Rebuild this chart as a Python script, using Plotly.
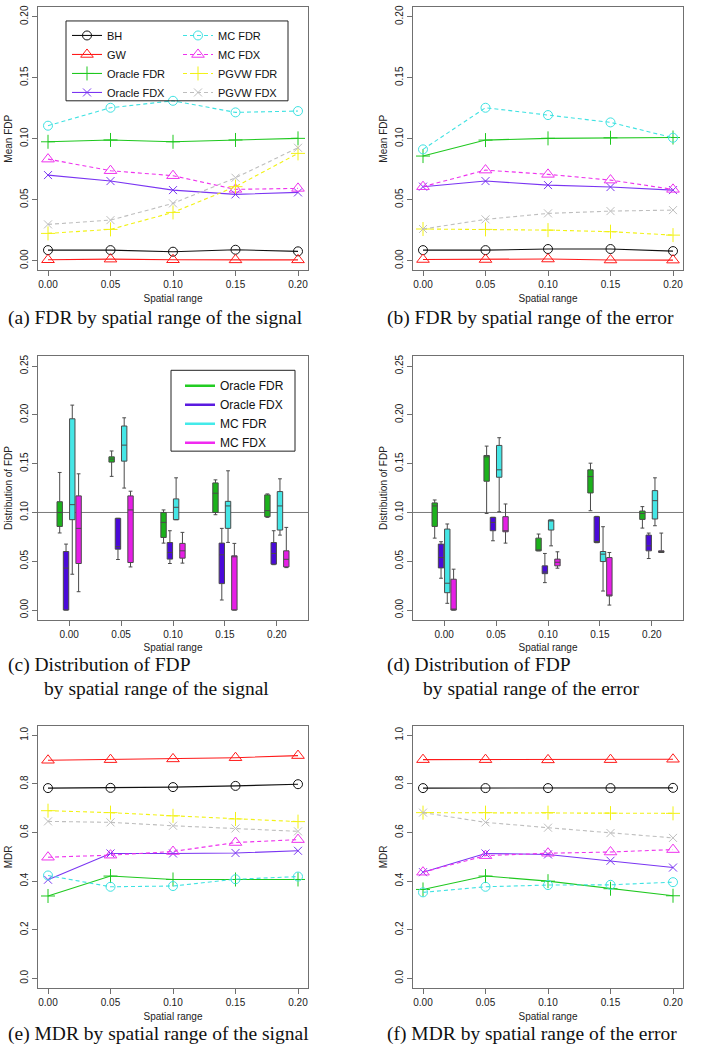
import plotly.graph_objects as go

# ---------------- data ----------------
spatial_range = [0.00, 0.05, 0.10, 0.15, 0.20]
tick_fdp = [0.00, 0.05, 0.10, 0.15, 0.20]
tick_fdp_box = [0.00, 0.05, 0.10, 0.15, 0.20, 0.25]
tick_mdr = [0.0, 0.2, 0.4, 0.6, 0.8, 1.0]
methods = ["BH", "GW", "Oracle FDR", "Oracle FDX", "MC FDR", "MC FDX", "PGVW FDR", "PGVW FDX"]
box_methods = ["Oracle FDR", "Oracle FDX", "MC FDR", "MC FDX"]

# (a) mean FDP, spatial range of the signal
a_bh = [0.0087, 0.0087, 0.0074, 0.0090, 0.0077]
a_gw = [0.0008, 0.0013, 0.0008, 0.0007, 0.0007]
a_oracle_fdr = [0.0975, 0.0990, 0.0975, 0.0990, 0.1003]
a_oracle_fdx = [0.0702, 0.0653, 0.0579, 0.0544, 0.0560]
a_mc_fdr = [0.1107, 0.1254, 0.1311, 0.1216, 0.1227]
a_mc_fdx = [0.0833, 0.0738, 0.0697, 0.0585, 0.0593]
a_pgvw_fdr = [0.0224, 0.0257, 0.0396, 0.0607, 0.0880]
a_pgvw_fdx = [0.0298, 0.0333, 0.0470, 0.0680, 0.0926]

# (b) mean FDP, spatial range of the error
b_bh = [0.0087, 0.0087, 0.0096, 0.0096, 0.0079]
b_gw = [0.0010, 0.0010, 0.0014, 0.0006, 0.0005]
b_oracle_fdr = [0.0858, 0.0989, 0.1003, 0.1008, 0.1010]
b_oracle_fdx = [0.0607, 0.0653, 0.0620, 0.0604, 0.0579]
b_mc_fdr = [0.0913, 0.1254, 0.1194, 0.1134, 0.1008]
b_mc_fdx = [0.0607, 0.0743, 0.0708, 0.0661, 0.0585]
b_pgvw_fdr = [0.0260, 0.0257, 0.0251, 0.0238, 0.0210]
b_pgvw_fdx = [0.0260, 0.0339, 0.0388, 0.0407, 0.0415]

# (e) MDR, spatial range of the signal
e_bh = [0.783, 0.784, 0.787, 0.792, 0.799]
e_gw = [0.8975, 0.900, 0.903, 0.908, 0.9167]
e_oracle_fdr = [0.339, 0.421, 0.407, 0.407, 0.407]
e_oracle_fdx = [0.406, 0.514, 0.514, 0.516, 0.525]
e_mc_fdr = [0.4235, 0.377, 0.380, 0.408, 0.419]
e_mc_fdx = [0.4986, 0.507, 0.522, 0.559, 0.571]
e_pgvw_fdr = [0.690, 0.682, 0.669, 0.656, 0.645]
e_pgvw_fdx = [0.646, 0.642, 0.628, 0.617, 0.605]

# (f) MDR, spatial range of the error
f_bh = [0.783, 0.783, 0.783, 0.783, 0.784]
f_gw = [0.900, 0.900, 0.899, 0.900, 0.9016]
f_oracle_fdr = [0.366, 0.421, 0.400, 0.369, 0.340]
f_oracle_fdx = [0.437, 0.514, 0.510, 0.484, 0.456]
f_mc_fdr = [0.354, 0.377, 0.384, 0.385, 0.396]
f_mc_fdx = [0.437, 0.505, 0.515, 0.520, 0.530]
f_pgvw_fdr = [0.682, 0.682, 0.682, 0.680, 0.679]
f_pgvw_fdx = [0.682, 0.642, 0.620, 0.598, 0.578]

# (c) distribution of FDP, spatial range of the signal (per group: low whisker, Q1, median, Q3, high whisker)
c_oracle_fdr_lo = [0.079, 0.137, 0.0686, 0.0977, 0.095]
c_oracle_fdr_q1 = [0.0857, 0.1516, 0.0744, 0.100, 0.0957]
c_oracle_fdr_med = [0.100, 0.1547, 0.0898, 0.1197, 0.1019]
c_oracle_fdr_q3 = [0.111, 0.157, 0.100, 0.1303, 0.118]
c_oracle_fdr_hi = [0.141, 0.163, 0.1026, 0.1334, 0.119]
c_oracle_fdx_lo = [0.0, 0.0518, 0.0477, 0.0103, 0.0465]
c_oracle_fdx_q1 = [0.0, 0.0624, 0.0522, 0.0271, 0.047]
c_oracle_fdx_med = [0.043, 0.065, 0.059, 0.0566, 0.058]
c_oracle_fdx_q3 = [0.060, 0.094, 0.0692, 0.0686, 0.0692]
c_oracle_fdx_hi = [0.0676, 0.094, 0.0813, 0.0837, 0.0813]
c_mc_fdr_lo = [0.0367, 0.125, 0.0926, 0.0693, 0.0768]
c_mc_fdr_q1 = [0.0926, 0.1526, 0.0926, 0.0837, 0.082]
c_mc_fdr_med = [0.108, 0.169, 0.1053, 0.1067, 0.1067]
c_mc_fdr_q3 = [0.196, 0.1886, 0.1139, 0.1114, 0.1214]
c_mc_fdr_hi = [0.210, 0.197, 0.1355, 0.1427, 0.1345]
c_mc_fdx_lo = [0.0188, 0.0442, 0.0481, 0.0, 0.0435]
c_mc_fdx_q1 = [0.0477, 0.0487, 0.0532, 0.0, 0.0442]
c_mc_fdx_med = [0.0837, 0.1026, 0.0607, 0.055, 0.052]
c_mc_fdx_q3 = [0.117, 0.117, 0.0683, 0.0556, 0.0607]
c_mc_fdx_hi = [0.1396, 0.1218, 0.0796, 0.0683, 0.0847]

# (d) distribution of FDP, spatial range of the error
d_oracle_fdr_lo = [0.0737, 0.099, 0.0607, 0.1018, 0.084]
d_oracle_fdr_q1 = [0.0857, 0.132, 0.0607, 0.120, 0.0929]
d_oracle_fdr_med = [0.1067, 0.157, 0.0614, 0.1368, 0.099]
d_oracle_fdr_q3 = [0.1098, 0.1584, 0.0737, 0.1437, 0.1015]
d_oracle_fdr_hi = [0.1128, 0.168, 0.0779, 0.1505, 0.106]
d_oracle_fdx_lo = [0.0326, 0.071, 0.0281, 0.069, 0.0528]
d_oracle_fdx_q1 = [0.0432, 0.0813, 0.0373, 0.0692, 0.0607]
d_oracle_fdx_med = [0.0538, 0.0898, 0.039, 0.070, 0.0658]
d_oracle_fdx_q3 = [0.0676, 0.095, 0.0453, 0.0957, 0.0768]
d_oracle_fdx_hi = [0.070, 0.095, 0.058, 0.096, 0.0789]
d_mc_fdr_lo = [0.0069, 0.1008, 0.0658, 0.0195, 0.0864]
d_mc_fdr_q1 = [0.0178, 0.1361, 0.082, 0.0497, 0.0933]
d_mc_fdr_med = [0.0275, 0.1437, 0.092, 0.0573, 0.1121]
d_mc_fdr_q3 = [0.083, 0.1687, 0.0923, 0.060, 0.1224]
d_mc_fdr_hi = [0.0882, 0.1766, 0.0923, 0.0854, 0.1355]
d_mc_fdx_lo = [0.0, 0.0686, 0.0429, 0.0051, 0.059]
d_mc_fdx_q1 = [0.0, 0.0802, 0.0453, 0.0144, 0.059]
d_mc_fdx_med = [0.0, 0.0813, 0.049, 0.015, 0.060]
d_mc_fdx_q3 = [0.0316, 0.0957, 0.0522, 0.0538, 0.0607]
d_mc_fdx_hi = [0.0419, 0.1087, 0.0597, 0.059, 0.0789]

fdp_target = 0.10

# ---------------- styles ----------------
W, H = 701, 1050
line_colors = {"BH": "#111111", "GW": "#ff1a1a", "Oracle FDR": "#1fc81f", "Oracle FDX": "#7a35f2",
               "MC FDR": "#3fe2e2", "MC FDX": "#ee33ee", "PGVW FDR": "#f2f215", "PGVW FDX": "#bebebe"}
symbols = {"BH": "circle-open", "GW": "triangle-up-open", "Oracle FDR": "cross-thin-open",
           "Oracle FDX": "x-thin-open", "MC FDR": "circle-open", "MC FDX": "triangle-up-open",
           "PGVW FDR": "cross-thin-open", "PGVW FDX": "x-thin-open"}
msizes = {"circle-open": 9, "triangle-up-open": 11, "cross-thin-open": 10, "x-thin-open": 8}
dashed = {"MC FDR", "MC FDX", "PGVW FDR", "PGVW FDX"}
box_fill = {"Oracle FDR": "#1bb21b", "Oracle FDX": "#4a0ad8", "MC FDR": "#45e6e6", "MC FDX": "#e61ee6"}
box_legend_col = {"Oracle FDR": "#22cc22", "Oracle FDX": "#5a1ae0", "MC FDR": "#44eaea", "MC FDX": "#f02af0"}
box_offset = {"Oracle FDR": -0.0091, "Oracle FDX": -0.003, "MC FDR": 0.003, "MC FDX": 0.0091}

SANS = "Liberation Sans, Arial, sans-serif"
SERIF = "Liberation Serif, Times New Roman, serif"


def px_x(p):
    return p / W


def px_y(p):
    return 1 - p / H


col_dom = [[px_x(38), px_x(308)], [px_x(413), px_x(683)]]
row_dom = [[px_y(269), px_y(5)], [px_y(619), px_y(355)], [px_y(988), px_y(725)]]

fig = go.Figure()

line_panels = [
    (1, [a_bh, a_gw, a_oracle_fdr, a_oracle_fdx, a_mc_fdr, a_mc_fdx, a_pgvw_fdr, a_pgvw_fdx], True),
    (2, [b_bh, b_gw, b_oracle_fdr, b_oracle_fdx, b_mc_fdr, b_mc_fdx, b_pgvw_fdr, b_pgvw_fdx], False),
    (5, [e_bh, e_gw, e_oracle_fdr, e_oracle_fdx, e_mc_fdr, e_mc_fdx, e_pgvw_fdr, e_pgvw_fdx], False),
    (6, [f_bh, f_gw, f_oracle_fdr, f_oracle_fdx, f_mc_fdr, f_mc_fdx, f_pgvw_fdr, f_pgvw_fdx], False),
]
for idx, series, show in line_panels:
    sfx = "" if idx == 1 else str(idx)
    for k, (name, vals) in enumerate(zip(methods, series)):
        c = line_colors[name]
        sym = symbols[name]
        fig.add_trace(go.Scatter(
            x=spatial_range, y=vals, name=name, mode="lines+markers",
            line=dict(color=c, width=1.1, dash="4px,3px" if name in dashed else "solid"),
            marker=dict(symbol=sym, size=msizes[sym], color=c, line=dict(color=c, width=1)),
            xaxis="x" + sfx, yaxis="y" + sfx, showlegend=show,
            legend="legend" if k < 4 else "legend2",
        ))

box_panels = [
    (3, {"Oracle FDR": (c_oracle_fdr_lo, c_oracle_fdr_q1, c_oracle_fdr_med, c_oracle_fdr_q3, c_oracle_fdr_hi),
         "Oracle FDX": (c_oracle_fdx_lo, c_oracle_fdx_q1, c_oracle_fdx_med, c_oracle_fdx_q3, c_oracle_fdx_hi),
         "MC FDR": (c_mc_fdr_lo, c_mc_fdr_q1, c_mc_fdr_med, c_mc_fdr_q3, c_mc_fdr_hi),
         "MC FDX": (c_mc_fdx_lo, c_mc_fdx_q1, c_mc_fdx_med, c_mc_fdx_q3, c_mc_fdx_hi)}),
    (4, {"Oracle FDR": (d_oracle_fdr_lo, d_oracle_fdr_q1, d_oracle_fdr_med, d_oracle_fdr_q3, d_oracle_fdr_hi),
         "Oracle FDX": (d_oracle_fdx_lo, d_oracle_fdx_q1, d_oracle_fdx_med, d_oracle_fdx_q3, d_oracle_fdx_hi),
         "MC FDR": (d_mc_fdr_lo, d_mc_fdr_q1, d_mc_fdr_med, d_mc_fdr_q3, d_mc_fdr_hi),
         "MC FDX": (d_mc_fdx_lo, d_mc_fdx_q1, d_mc_fdx_med, d_mc_fdx_q3, d_mc_fdx_hi)}),
]
for idx, stats in box_panels:
    # reference line at the target FDP level
    fig.add_shape(type="line", xref="x%d domain" % idx, yref="y%d" % idx, x0=0, x1=1,
                  y0=fdp_target, y1=fdp_target, line=dict(color="#7a7a7a", width=1), layer="below")
    for name in box_methods:
        lo, q1, med, q3, hi = stats[name]
        fig.add_trace(go.Box(
            x=[s + box_offset[name] for s in spatial_range],
            lowerfence=lo, q1=q1, median=med, q3=q3, upperfence=hi,
            width=0.0052, whiskerwidth=0.7, fillcolor=box_fill[name],
            line=dict(color="#4a4a4a", width=1), boxpoints=False,
            xaxis="x" + str(idx), yaxis="y" + str(idx), showlegend=False, name=name,
        ))

# legend entries for the box panel (c)
for name in box_methods:
    fig.add_trace(go.Scatter(x=[None], y=[None], mode="lines", name=name,
                             line=dict(color=box_legend_col[name], width=2.5),
                             xaxis="x3", yaxis="y3", legend="legend3", showlegend=True))

# ---------------- axes ----------------
axis_common = dict(showgrid=False, zeroline=False, showline=True, mirror=True, linecolor="#707070",
                   linewidth=1, ticks="outside", ticklen=5, tickcolor="#707070",
                   tickfont=dict(family=SANS, size=10, color="#222222"))
axes = {
    1: dict(xr=[-0.008, 0.208], yr=[-0.008, 0.208], yt=tick_fdp, fmt=".2f", ytitle="Mean FDP", r=0, c=0),
    2: dict(xr=[-0.008, 0.208], yr=[-0.008, 0.208], yt=tick_fdp, fmt=".2f", ytitle="Mean FDP", r=0, c=1),
    3: dict(xr=[-0.03, 0.23], yr=[-0.01, 0.26], yt=tick_fdp_box, fmt=".2f", ytitle="Distribution of FDP", r=1, c=0),
    4: dict(xr=[-0.03, 0.23], yr=[-0.01, 0.26], yt=tick_fdp_box, fmt=".2f", ytitle="Distribution of FDP", r=1, c=1),
    5: dict(xr=[-0.008, 0.208], yr=[-0.04, 1.04], yt=tick_mdr, fmt=".1f", ytitle="MDR", r=2, c=0),
    6: dict(xr=[-0.008, 0.208], yr=[-0.04, 1.04], yt=tick_mdr, fmt=".1f", ytitle="MDR", r=2, c=1),
}
layout_axes = {}
for idx, a in axes.items():
    sfx = "" if idx == 1 else str(idx)
    layout_axes["xaxis" + sfx] = dict(
        axis_common, domain=col_dom[a["c"]], range=a["xr"], anchor="y" + sfx,
        tickvals=spatial_range, ticktext=["%.2f" % v for v in spatial_range],
        title=dict(text="Spatial range", font=dict(family=SANS, size=10, color="#222222"), standoff=5),
    )
    layout_axes["yaxis" + sfx] = dict(
        axis_common, domain=row_dom[a["r"]], range=a["yr"], anchor="x" + sfx,
        tickvals=a["yt"], ticktext=[format(v, a["fmt"]) for v in a["yt"]], tickangle=-90,
        title=dict(text=a["ytitle"], font=dict(family=SANS, size=10, color="#222222"), standoff=4),
    )

legend_common = dict(font=dict(family=SANS, size=11, color="#111111"), bgcolor="rgba(0,0,0,0)",
                     borderwidth=0, xanchor="left", yanchor="top", tracegroupgap=0, itemwidth=30)

fig.update_layout(
    width=W, height=H, margin=dict(l=0, r=0, t=0, b=0),
    paper_bgcolor="white", plot_bgcolor="white",
    legend=dict(legend_common, x=px_x(67), y=px_y(19)),
    legend2=dict(legend_common, x=px_x(178), y=px_y(19)),
    legend3=dict(legend_common, x=px_x(180), y=px_y(370), font=dict(family=SANS, size=12, color="#111111")),
    **layout_axes,
)

# legend frames
fig.add_shape(type="rect", xref="paper", yref="paper", x0=px_x(66), x1=px_x(288), y0=px_y(99), y1=px_y(19),
              line=dict(color="#222222", width=1))
fig.add_shape(type="rect", xref="paper", yref="paper", x0=px_x(171), x1=px_x(295), y0=px_y(450), y1=px_y(369),
              line=dict(color="#222222", width=1))

# captions
captions = [
    ("(a) FDR by spatial range of the signal", 6, 317),
    ("(b) FDR by spatial range of the error", 385, 317),
    ("(c) Distribution of FDP", 6, 664),
    ("by spatial range of the signal", 42, 688),
    ("(d) Distribution of FDP", 385, 664),
    ("by spatial range of the error", 421, 688),
    ("(e) MDR by spatial range of the signal", 6, 1034),
    ("(f) MDR by spatial range of the error", 385, 1034),
]
for text, xp, yp in captions:
    fig.add_annotation(text=text, xref="paper", yref="paper", x=px_x(xp), y=px_y(yp),
                       xanchor="left", yanchor="middle", showarrow=False,
                       font=dict(family=SERIF, size=19.5, color="#111111"))

fig.write_html("out.html", config={"displayModeBar": False},
               post_script="document.body.style.margin='0px';")
